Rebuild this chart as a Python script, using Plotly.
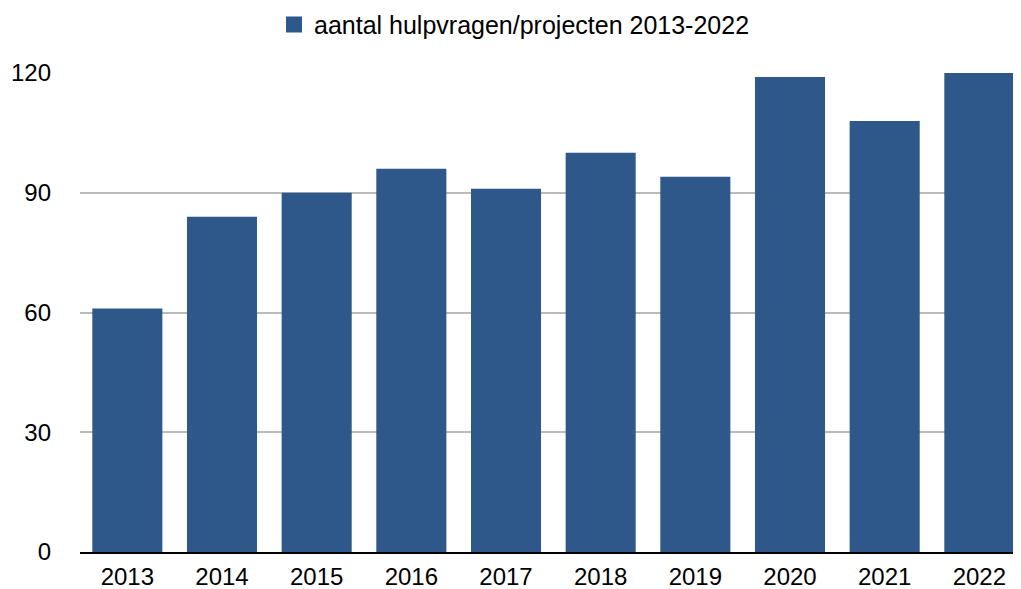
import plotly.graph_objects as go

years = ["2013", "2014", "2015", "2016", "2017", "2018", "2019", "2020", "2021", "2022"]
values = [61, 84, 90, 96, 91, 100, 94, 119, 108, 120]
series_name = "aantal hulpvragen/projecten 2013-2022"
y_ticks = [0, 30, 60, 90, 120]

bar_color = "#2e5889"
font_family = "Liberation Sans, Arial, Helvetica, sans-serif"

fig = go.Figure()
fig.add_trace(go.Bar(
    x=years, y=values, marker=dict(color=bar_color, line=dict(width=0)),
    name=series_name, showlegend=False,
))
# legend entry (square marker)
fig.add_trace(go.Scatter(
    x=[None], y=[None], mode="markers", name=series_name,
    marker=dict(symbol="square", size=20, color=bar_color),
    showlegend=True,
))

# the page body has an 8px margin, so the figure is sized to fit the window
fig.update_layout(
    width=1013, height=581,
    margin=dict(l=72, r=0, t=65, b=37, autoexpand=False),
    paper_bgcolor="white", plot_bgcolor="white",
    font=dict(family=font_family, size=24, color="black"),
    bargap=0.26,
    legend=dict(
        orientation="h", xref="container", yref="container",
        x=0.5, xanchor="center", y=0.971, yanchor="middle",
        font=dict(size=25), itemsizing="trace",
    ),
    xaxis=dict(
        type="category", range=[-0.5, 9.44], automargin=False,
        showline=True, linecolor="black", linewidth=2,
        showgrid=False, ticks="", ticklabelstandoff=2,
        tickfont=dict(size=24),
    ),
    yaxis=dict(
        range=[0, 120], tickvals=y_ticks, automargin=False,
        showgrid=True, gridcolor="#bbbbbb", gridwidth=2,
        zeroline=False, showline=False, ticks="",
        ticklabelstandoff=28, tickfont=dict(size=24),
    ),
)

fig.write_html("out.html")
